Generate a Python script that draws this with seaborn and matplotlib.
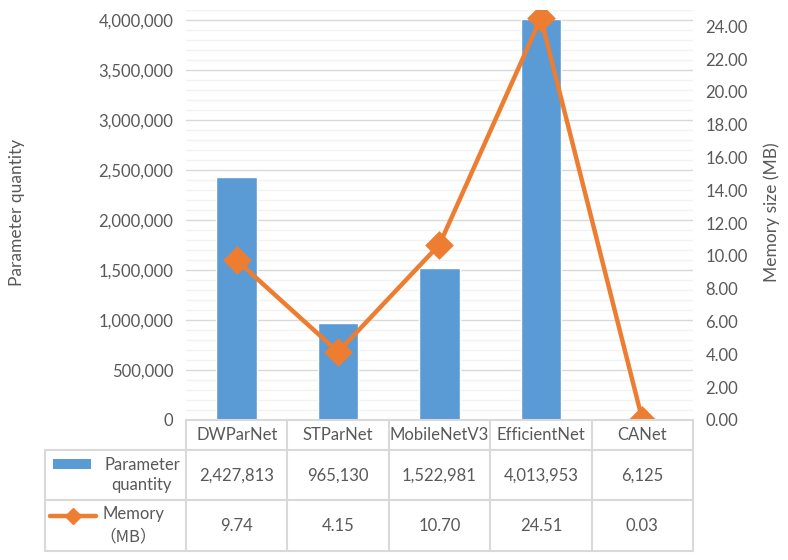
import numpy as np
import pandas as pd
import matplotlib
matplotlib.use("Agg")
import matplotlib.pyplot as plt
import seaborn as sns
from matplotlib.ticker import FuncFormatter, MultipleLocator
from matplotlib.lines import Line2D
from matplotlib.patches import Rectangle
from matplotlib.transforms import blended_transform_factory

# ---- data ----
models = ["DWParNet", "STParNet", "MobileNetV3", "EfficientNet", "CANet"]
params = [2427813, 965130, 1522981, 4013953, 6125]
memory = [9.74, 4.15, 10.70, 24.51, 0.03]
param_row_label = "Parameter\nquantity"
memory_row_label_1 = "Memory"
memory_row_label_2 = "（MB）"
left_title = "Parameter quantity"
right_title = "Memory size (MB)"

BLUE = "#5B9BD5"
ORANGE = "#ED7D31"
TXT = "#595959"
GRID = "#D9D9D9"
MINOR = "#F2F2F2"

sns.set_theme(style="white")
plt.rcParams["font.family"] = ["Lato", "Noto Sans CJK SC", "DejaVu Sans"]
FS = 12

W, H = 788, 560
fig = plt.figure(figsize=(W / 100, H / 100), dpi=100)
fig.patch.set_facecolor("white")

def fx(px):
    return px / W

def fy(py):
    return 1 - py / H

ax = fig.add_axes([fx(186), fy(420), fx(693) - fx(186), fy(10) - fy(420)])
df = pd.DataFrame({"model": models, "params": params, "memory": memory})

sns.barplot(data=df, x="model", y="params", color=BLUE, width=0.4,
            saturation=1, ax=ax, zorder=3)
ax.set_ylim(0, 4100000)
ax.yaxis.set_major_locator(MultipleLocator(500000))
ax.yaxis.set_minor_locator(MultipleLocator(100000))
ax.yaxis.set_major_formatter(FuncFormatter(lambda v, p: f"{int(round(v)):,}"))
ax.grid(True, which="major", axis="y", color=GRID, lw=1.0, zorder=0)
ax.grid(True, which="minor", axis="y", color=MINOR, lw=1.0, zorder=0)
ax.grid(False, axis="x")
ax.set_axisbelow(True)
ax.tick_params(axis="y", which="both", length=0, labelsize=FS, labelcolor=TXT, pad=9)
ax.tick_params(axis="x", length=0, labelbottom=False)
ax.set_xlabel("")
ax.set_ylabel(left_title, fontsize=FS + 0.5, color=TXT)
ax.yaxis.set_label_coords(-0.318, 0.507)
for s in ax.spines.values():
    s.set_visible(False)

ax2 = ax.twinx()
sns.pointplot(data=df, x="model", y="memory", color=ORANGE, marker="D",
              markersize=12, linewidth=3.2, errorbar=None, ax=ax2)
ax2.set_ylim(0, 25)
ax2.yaxis.set_major_locator(MultipleLocator(2))
ax2.yaxis.set_major_formatter(FuncFormatter(lambda v, p: f"{v:.2f}"))
ax2.tick_params(axis="y", length=0, labelsize=FS, labelcolor=TXT, pad=9)
ax2.tick_params(axis="x", length=0, labelbottom=False)
ax2.set_xlabel("")
ax2.set_ylabel(right_title, fontsize=FS + 0.5, color=TXT)
ax2.yaxis.set_label_coords(1.138, 0.507)
ax2.grid(False)
for s in ax2.spines.values():
    s.set_visible(False)
for a in (ax, ax2):
    a.set_xlim(-0.5, len(models) - 0.5)

# ---- data table below the plot ----
tf = fig.transFigure
bt = blended_transform_factory(ax.transData, tf)
lk = dict(color=GRID, lw=1.5, transform=tf, clip_on=False)
x_left = fx(186)
x_right = fx(693)
x_lab = fx(45)
for yy, x0 in [(420, x_left), (450, x_lab), (500, x_lab), (551, x_lab)]:
    fig.add_artist(Line2D([x0, x_right], [fy(yy), fy(yy)], **lk))
fig.add_artist(Line2D([x_lab, x_lab], [fy(450), fy(551)], **lk))
for i in range(len(models) + 1):
    fig.add_artist(Line2D([i - 0.5, i - 0.5], [fy(420), fy(551)],
                          color=GRID, lw=1.5, transform=bt, clip_on=False))

for i, m in enumerate(models):
    fig.text(i, fy(435), m, transform=bt, ha="center", va="center",
             fontsize=FS, color=TXT)
    fig.text(i, fy(476), f"{params[i]:,}", transform=bt, ha="center",
             va="center", fontsize=FS, color=TXT)
    fig.text(i, fy(526), f"{memory[i]:.2f}", transform=bt, ha="center",
             va="center", fontsize=FS, color=TXT)

# row labels with legend keys
fig.add_artist(Rectangle((fx(53), fy(469)), fx(91) - fx(53), fy(459) - fy(469),
                         facecolor=BLUE, edgecolor="none", transform=tf))
fig.text(fx(142), fy(475), param_row_label, ha="center", va="center",
         fontsize=FS, color=TXT, linespacing=1.3, multialignment="center")
fig.add_artist(Line2D([fx(50), fx(96)], [fy(516), fy(516)], color=ORANGE,
                      lw=3.2, transform=tf))
fig.add_artist(Line2D([fx(73)], [fy(516)], color=ORANGE, marker="D",
                      markersize=8, lw=0, transform=tf))
fig.text(fx(103), fy(514), memory_row_label_1, ha="left", va="center",
         fontsize=FS, color=TXT)
fig.text(fx(128), fy(537), memory_row_label_2, ha="center", va="center",
         fontsize=FS, color=TXT, family=["Noto Sans CJK SC", "DejaVu Sans"])

fig.savefig("out.png", dpi=100, facecolor="white")
